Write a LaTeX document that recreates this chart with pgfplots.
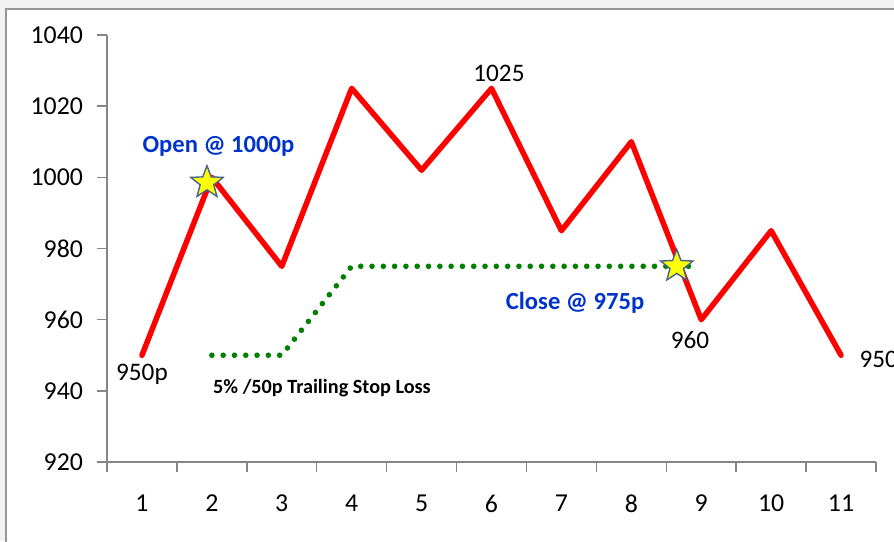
\documentclass[border=0pt]{standalone}
\usepackage{pgfplots}
\pgfplotsset{compat=1.18}
\usepackage{fontspec}
\setmainfont{Carlito}
\definecolor{redl}{RGB}{255,0,0}
\definecolor{greenl}{RGB}{0,128,0}
\definecolor{bluet}{RGB}{0,51,204}
\definecolor{axgray}{RGB}{134,134,134}
\definecolor{bggray}{RGB}{242,242,242}
\definecolor{framegray}{RGB}{150,150,150}
\definecolor{starborder}{RGB}{70,100,140}
\definecolor{staryellow}{RGB}{255,255,0}
\pgfdeclareplotmark{fstar}{%
 \pgfpathmoveto{\pgfpointpolar{90}{\pgfplotmarksize}}%
 \pgfpathlineto{\pgfpointpolar{126}{0.42*\pgfplotmarksize}}%
 \pgfpathlineto{\pgfpointpolar{162}{\pgfplotmarksize}}%
 \pgfpathlineto{\pgfpointpolar{198}{0.42*\pgfplotmarksize}}%
 \pgfpathlineto{\pgfpointpolar{234}{\pgfplotmarksize}}%
 \pgfpathlineto{\pgfpointpolar{270}{0.42*\pgfplotmarksize}}%
 \pgfpathlineto{\pgfpointpolar{306}{\pgfplotmarksize}}%
 \pgfpathlineto{\pgfpointpolar{342}{0.42*\pgfplotmarksize}}%
 \pgfpathlineto{\pgfpointpolar{18}{\pgfplotmarksize}}%
 \pgfpathlineto{\pgfpointpolar{54}{0.42*\pgfplotmarksize}}%
 \pgfpathclose
 \pgfusepathqfillstroke}
\begin{document}
\begin{tikzpicture}
\fill[bggray] (-53.5pt,-39.5pt) rectangle (393.5pt,231pt);
\filldraw[fill=white, draw=framegray, line width=0.75pt] (-50.5pt,-60pt) rectangle (420pt,226.5pt);
\begin{axis}[at={(0,0)}, anchor=south west, scale only axis,
 width=384.5pt, height=213.5pt,
 xmin=0.5, xmax=11.5, ymin=920, ymax=1040,
 axis lines*=left,
 axis line style={axgray, line width=0.75pt},
 xtick={0.5,1.5,...,11.5}, xticklabels={},
 extra x ticks={1,2,...,11},
 extra x tick style={major tick length=0pt},
 ytick={920,940,...,1040},
 tick align=outside, major tick length=5pt,
 tick style={axgray, line width=0.75pt},
 ticklabel style={font=\fontsize{12.9}{14}\selectfont},
 /pgf/number format/assume math mode=true,
 /pgf/number format/1000 sep={},
 yticklabel style={xshift=-3.5pt},
 xticklabel style={yshift=-13pt},
 clip=false,
]
\addplot[redl, line width=2.75pt, line join=round, line cap=round] coordinates {(1,950)(2,1000)(3,975)(4,1025)(5,1002)(6,1025)(7,985)(8,1010)(9,960)(10,985)(11,950)};
\addplot[greenl, line width=2.8pt, line cap=round, dash pattern=on 0pt off 5.65pt] coordinates {(2,950)(3,950)(4,975)(8.85,975)};
\addplot[only marks, mark=fstar, mark size=8.5pt, mark options={fill=staryellow, draw=starborder, line width=0.7pt}] coordinates {(1.93,998.5)(8.65,975)};
\node[font=\fontsize{12.3}{14}\selectfont\bfseries, text=bluet] at (axis cs:2.094,1008.8) {Open @ 1000p};
\node[font=\fontsize{12.3}{14}\selectfont\bfseries, text=bluet] at (axis cs:7.195,964.7) {Close @ 975p};
\node[font=\fontsize{12.6}{14}\selectfont] at (axis cs:6.107,1029.3) {1025};
\node[font=\fontsize{12.6}{14}\selectfont] at (axis cs:1,944.7) {950p};
\node[font=\fontsize{12.6}{14}\selectfont] at (axis cs:8.84,954.3) {960};
\node[font=\fontsize{12.6}{14}\selectfont, anchor=west, inner sep=0pt] at (axis cs:11.26,948.7) {950};
\node[font=\fontsize{10.1}{12}\selectfont\bfseries] at (axis cs:3.575,940.8) {5\% /50p Trailing Stop Loss};
\end{axis}
\pgfresetboundingbox
\useasboundingbox (-53.5pt,-39.5pt) rectangle (393.5pt,231pt);
\end{tikzpicture}
\end{document}
